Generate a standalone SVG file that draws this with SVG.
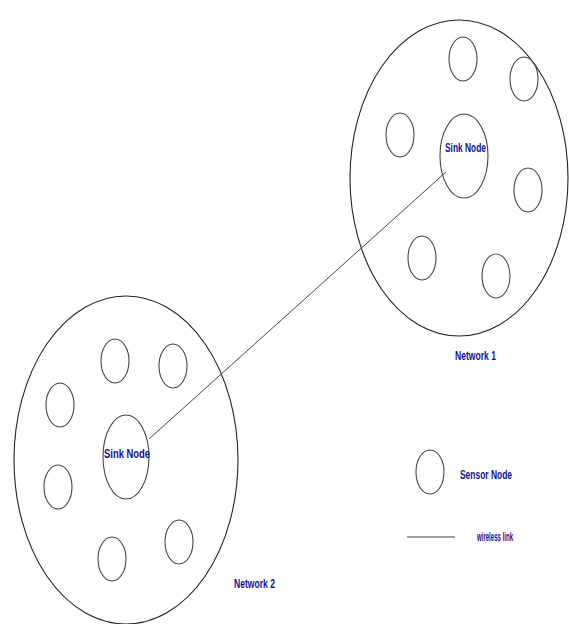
<svg xmlns="http://www.w3.org/2000/svg" width="569" height="624" viewBox="0 0 569 624">
<style>
.big{fill:none;stroke:#222;stroke-width:1.1}
.node{fill:none;stroke:#444;stroke-width:1.1}
.lbl{font-family:"Liberation Sans Narrow","Liberation Sans",Arial,sans-serif;font-weight:bold;font-size:13px;fill:#101090}
.link{stroke:#444;stroke-width:1;fill:none}
</style>
<rect width="569" height="624" fill="#fff"/>
<g id="network1">
<ellipse class="big" cx="459" cy="178" rx="109" ry="158"/>
<text class="lbl" x="455" y="360" textLength="41" lengthAdjust="spacingAndGlyphs">Network 1</text>
</g>
<g id="network2">
<ellipse class="big" cx="126" cy="460" rx="112" ry="164"/>
<text class="lbl" x="234" y="588" textLength="41" lengthAdjust="spacingAndGlyphs">Network 2</text>
</g>
<g id="connectors">
<line class="link" x1="446" y1="172" x2="149" y2="439"/>
</g>
<g id="sink1">
<ellipse class="node" cx="464" cy="156" rx="24" ry="42"/>
<text class="lbl" x="445" y="152" textLength="41" lengthAdjust="spacingAndGlyphs">Sink Node</text>
</g>
<g id="sink2">
<ellipse class="node" cx="126" cy="457" rx="23" ry="42"/>
<text class="lbl" x="104" y="458" textLength="46" lengthAdjust="spacingAndGlyphs">Sink Node</text>
</g>
<g id="n1s1"><ellipse class="node" cx="463" cy="59" rx="14" ry="22"/></g>
<g id="n1s2"><ellipse class="node" cx="524" cy="79" rx="14" ry="22"/></g>
<g id="n1s3"><ellipse class="node" cx="400" cy="135" rx="14" ry="22"/></g>
<g id="n1s4"><ellipse class="node" cx="528" cy="190" rx="14" ry="22"/></g>
<g id="n1s5"><ellipse class="node" cx="422" cy="258" rx="14" ry="22"/></g>
<g id="n1s6"><ellipse class="node" cx="496" cy="276" rx="14" ry="22"/></g>
<g id="n2s1"><ellipse class="node" cx="115" cy="361" rx="14" ry="22"/></g>
<g id="n2s2"><ellipse class="node" cx="173" cy="366" rx="14" ry="22"/></g>
<g id="n2s3"><ellipse class="node" cx="60" cy="405" rx="14" ry="22"/></g>
<g id="n2s4"><ellipse class="node" cx="58" cy="487" rx="14" ry="22"/></g>
<g id="n2s5"><ellipse class="node" cx="112" cy="559" rx="14" ry="22"/></g>
<g id="n2s6"><ellipse class="node" cx="179" cy="542" rx="14" ry="22"/></g>
<g id="legend">
<ellipse class="node" cx="430" cy="472" rx="14" ry="22"/>
<text class="lbl" x="460" y="479" textLength="52" lengthAdjust="spacingAndGlyphs">Sensor Node</text>
<line class="link" x1="407" y1="537" x2="455" y2="537"/>
<text class="lbl" x="477" y="541" textLength="36" lengthAdjust="spacingAndGlyphs">wireless link</text>
</g>
</svg>
